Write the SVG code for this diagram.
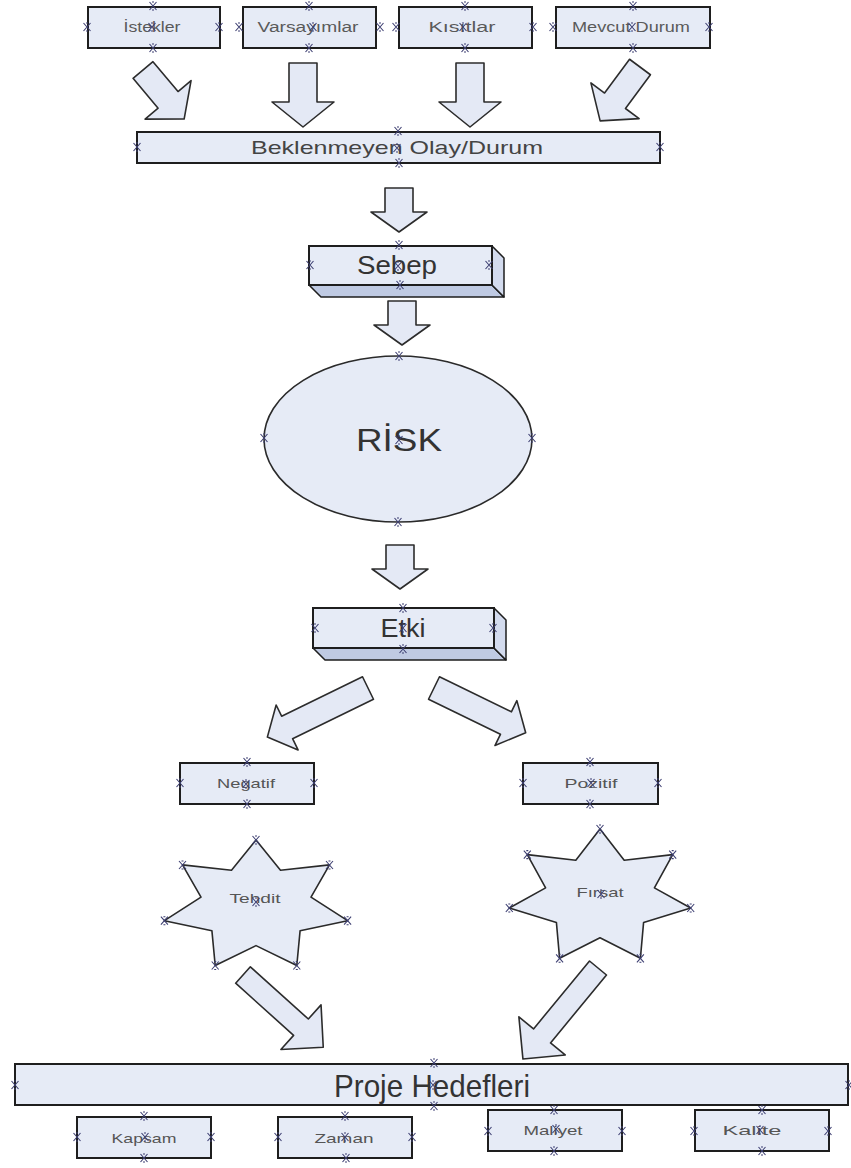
<svg xmlns="http://www.w3.org/2000/svg" xmlns:xlink="http://www.w3.org/1999/xlink" width="851" height="1168" viewBox="0 0 851 1168">
  <style>
    .box { fill: #e6ebf6; stroke: #1e1e1e; stroke-width: 2; }
    .face-b { fill: #bfcae3; stroke: #1e1e1e; stroke-width: 1.5; stroke-linejoin: round; }
    .face-r { fill: #d3dbee; stroke: #1e1e1e; stroke-width: 1.5; stroke-linejoin: round; }
    .shape { fill: #e6ebf6; stroke: #2a2a2a; stroke-width: 1.6; stroke-linejoin: round; }
    .arrow { fill: #e4e9f5; stroke: #2c2c2c; stroke-width: 1.6; stroke-linejoin: round; }
    .mk { fill: none; stroke: #3d3f72; stroke-width: 1.1; }
    text { font-family: "Liberation Sans", Arial, sans-serif; text-anchor: middle; }
    .sm { font-size: 14px; fill: #5a5a5a; }
    .xs { font-size: 13px; fill: #555; }
    .md { font-size: 19px; fill: #444; }
    .lg { font-size: 26px; fill: #333; }
    .xl { font-size: 32px; fill: #333; }
  </style>
  <defs>
    <!-- connection point glyph -->
    <path id="mk" class="mk" d="M-3.5,-4 L3.5,4 M3.5,-4 L-3.5,4 M-1,-4 H1 M-1,4 H1"/>
  </defs>

  <rect width="851" height="1168" fill="#ffffff"/>

  <!-- block arrows -->
  <g id="connectors">
    <path class="arrow" transform="translate(143,70) rotate(-40)" d="M-13,0H13V39H30L0,64L-30,39H-13Z"/>
    <path class="arrow" transform="translate(303,63)" d="M-14,0H14V39H31L0,64L-31,39H-14Z"/>
    <path class="arrow" transform="translate(470,63)" d="M-14,0H14V39H31L0,64L-31,39H-14Z"/>
    <path class="arrow" transform="translate(640,67) rotate(36.5)" d="M-13,0H13V42H30L0,67L-30,42H-13Z"/>
    <path class="arrow" transform="translate(399,188)" d="M-14,0H14V24H28L0,44L-28,24H-14Z"/>
    <path class="arrow" transform="translate(402,301)" d="M-14,0H14V24H28L0,44L-28,24H-14Z"/>
    <path class="arrow" transform="translate(400,545)" d="M-14,0H14V24H28L0,44L-28,24H-14Z"/>
    <path class="arrow" transform="translate(368,688) rotate(64)" d="M-12.5,0H12.5V90H25L0,112L-25,90H-12.5Z"/>
    <path class="arrow" transform="translate(434,688) rotate(-64)" d="M-12.5,0H12.5V80H25L0,102L-25,80H-12.5Z"/>
    <path class="arrow" transform="translate(243,975) rotate(-48)" d="M-11,0H11V78H30L0,108L-30,78H-11Z"/>
    <path class="arrow" transform="translate(598,968) rotate(39.5)" d="M-11,0H11V88H30L0,118L-30,88H-11Z"/>
  </g>

  <g id="istekler">
    <rect class="box" x="88" y="7" width="132" height="41"/>
    <text class="sm" x="152" y="32" textLength="57" lengthAdjust="spacingAndGlyphs">İstekler</text>
    <use href="#mk" x="153" y="6"/><use href="#mk" x="153" y="48"/><use href="#mk" x="87" y="27"/><use href="#mk" x="219" y="27"/><use href="#mk" x="152" y="27"/>
  </g>
  <g id="varsayimlar">
    <rect class="box" x="243" y="7" width="133" height="41"/>
    <text class="sm" x="308" y="32" textLength="101" lengthAdjust="spacingAndGlyphs">Varsayımlar</text>
    <use href="#mk" x="309" y="6"/><use href="#mk" x="309" y="48"/><use href="#mk" x="239" y="27"/><use href="#mk" x="380" y="27"/><use href="#mk" x="313" y="27"/>
  </g>
  <g id="kisitlar">
    <rect class="box" x="399" y="7" width="133" height="41"/>
    <text class="sm" x="462" y="32" textLength="67" lengthAdjust="spacingAndGlyphs">Kısıtlar</text>
    <use href="#mk" x="465" y="6"/><use href="#mk" x="465" y="48"/><use href="#mk" x="396" y="27"/><use href="#mk" x="533" y="27"/><use href="#mk" x="463" y="27"/>
  </g>
  <g id="mevcut-durum">
    <rect class="box" x="556" y="7" width="154" height="41"/>
    <text class="sm" x="631" y="32" textLength="118" lengthAdjust="spacingAndGlyphs">Mevcut Durum</text>
    <use href="#mk" x="633" y="6"/><use href="#mk" x="633" y="48"/><use href="#mk" x="553" y="27"/><use href="#mk" x="709" y="27"/><use href="#mk" x="632" y="27"/>
  </g>

  <g id="beklenmeyen">
    <rect class="box" x="137" y="132" width="523" height="31"/>
    <text class="md" x="397" y="154" textLength="292" lengthAdjust="spacingAndGlyphs">Beklenmeyen Olay/Durum</text>
    <use href="#mk" x="398" y="131"/><use href="#mk" x="399" y="163"/><use href="#mk" x="137" y="147"/><use href="#mk" x="660" y="147"/><use href="#mk" x="397" y="148"/>
  </g>

  <g id="sebep">
    <polygon class="face-b" points="309,285 492,285 504,297 321,297"/>
    <polygon class="face-r" points="492,246 504,258 504,297 492,285"/>
    <rect class="box" x="309" y="246" width="183" height="39"/>
    <text class="lg" x="397" y="274" textLength="80" lengthAdjust="spacingAndGlyphs">Sebep</text>
    <use href="#mk" x="399" y="245"/><use href="#mk" x="400" y="285"/><use href="#mk" x="310" y="265"/><use href="#mk" x="489" y="265"/><use href="#mk" x="398" y="266"/>
  </g>

  <g id="risk">
    <ellipse class="shape" cx="398" cy="439" rx="134" ry="83"/>
    <text class="xl" x="399" y="451" font-size="33" textLength="86" lengthAdjust="spacingAndGlyphs">RİSK</text>
    <use href="#mk" x="399" y="356"/><use href="#mk" x="398" y="522"/><use href="#mk" x="264" y="438"/><use href="#mk" x="532" y="438"/><use href="#mk" x="399" y="440"/>
  </g>

  <g id="etki">
    <polygon class="face-b" points="313,648 494,648 506,660 325,660"/>
    <polygon class="face-r" points="494,608 506,620 506,660 494,648"/>
    <rect class="box" x="313" y="608" width="181" height="40"/>
    <text class="lg" x="403" y="637" textLength="45" lengthAdjust="spacingAndGlyphs">Etki</text>
    <use href="#mk" x="403" y="608"/><use href="#mk" x="403" y="649"/><use href="#mk" x="315" y="628"/><use href="#mk" x="493" y="628"/><use href="#mk" x="403" y="628"/>
  </g>

  <g id="negatif">
    <rect class="box" x="180" y="763" width="134" height="41"/>
    <text class="xs" x="246" y="788" textLength="58" lengthAdjust="spacingAndGlyphs">Negatif</text>
    <use href="#mk" x="247" y="762"/><use href="#mk" x="247" y="804"/><use href="#mk" x="180" y="783"/><use href="#mk" x="314" y="783"/><use href="#mk" x="246" y="784"/>
  </g>
  <g id="pozitif">
    <rect class="box" x="523" y="763" width="135" height="41"/>
    <text class="xs" x="591" y="788" textLength="53" lengthAdjust="spacingAndGlyphs">Pozitif</text>
    <use href="#mk" x="590" y="762"/><use href="#mk" x="590" y="804"/><use href="#mk" x="523" y="783"/><use href="#mk" x="658" y="783"/><use href="#mk" x="591" y="783"/>
  </g>

  <g id="tehdit">
    <polygon class="shape" points="256,840 280.5,870.3 329.5,864.9 311,897.2 347.6,920.7 300.1,930.7 296.8,965.5 256,945.6 215.2,965.5 211.9,930.7 164.4,920.7 201,897.2 182.5,864.9 231.5,870.3"/>
    <text class="xs" x="255" y="903" textLength="51" lengthAdjust="spacingAndGlyphs">Tehdit</text>
    <use href="#mk" x="256" y="840"/><use href="#mk" x="329.5" y="865"/><use href="#mk" x="347.6" y="920.7"/><use href="#mk" x="296.8" y="965.5"/><use href="#mk" x="215.2" y="965.5"/><use href="#mk" x="164.4" y="920.7"/><use href="#mk" x="182.5" y="865"/><use href="#mk" x="256" y="902"/>
  </g>
  <g id="firsat">
    <polygon class="shape" points="600,829 624.2,860.2 672.7,854.6 654.4,887.9 690.7,908 643.6,922.4 640.4,958.3 600,937.8 559.6,958.3 556.4,922.4 509.3,908 545.6,887.9 527.3,854.6 575.8,860.2"/>
    <text class="xs" x="600" y="897" textLength="47" lengthAdjust="spacingAndGlyphs">Fırsat</text>
    <use href="#mk" x="600" y="829"/><use href="#mk" x="672.7" y="854.6"/><use href="#mk" x="690.7" y="908"/><use href="#mk" x="640.4" y="958.3"/><use href="#mk" x="559.6" y="958.3"/><use href="#mk" x="509.3" y="908"/><use href="#mk" x="527.3" y="854.6"/><use href="#mk" x="601" y="894"/>
  </g>

  <g id="proje-hedefleri">
    <rect class="box" x="15" y="1064" width="833" height="41"/>
    <text class="xl" x="432" y="1097" font-size="33" textLength="196" lengthAdjust="spacingAndGlyphs">Proje Hedefleri</text>
    <use href="#mk" x="434" y="1063"/><use href="#mk" x="434" y="1106"/><use href="#mk" x="15" y="1085"/><use href="#mk" x="849" y="1085"/><use href="#mk" x="433" y="1085"/>
  </g>

  <g id="kapsam">
    <rect class="box" x="77" y="1117" width="134" height="41"/>
    <text class="xs" x="144" y="1143" textLength="65" lengthAdjust="spacingAndGlyphs">Kapsam</text>
    <use href="#mk" x="144" y="1116"/><use href="#mk" x="144" y="1158"/><use href="#mk" x="77" y="1137"/><use href="#mk" x="211" y="1137"/><use href="#mk" x="145" y="1137"/>
  </g>
  <g id="zaman">
    <rect class="box" x="278" y="1117" width="134" height="41"/>
    <text class="xs" x="344" y="1143" textLength="59" lengthAdjust="spacingAndGlyphs">Zaman</text>
    <use href="#mk" x="345" y="1116"/><use href="#mk" x="346" y="1158"/><use href="#mk" x="278" y="1137"/><use href="#mk" x="412" y="1137"/><use href="#mk" x="345" y="1137"/>
  </g>
  <g id="maliyet">
    <rect class="box" x="488" y="1110" width="134" height="41"/>
    <text class="xs" x="553" y="1135" textLength="59" lengthAdjust="spacingAndGlyphs">Maliyet</text>
    <use href="#mk" x="554" y="1110"/><use href="#mk" x="554" y="1151"/><use href="#mk" x="488" y="1131"/><use href="#mk" x="622" y="1131"/><use href="#mk" x="556" y="1129"/>
  </g>
  <g id="kalite">
    <rect class="box" x="695" y="1110" width="134" height="41"/>
    <text class="xs" x="752" y="1135" textLength="59" lengthAdjust="spacingAndGlyphs">Kalite</text>
    <use href="#mk" x="762" y="1110"/><use href="#mk" x="762" y="1151"/><use href="#mk" x="694" y="1131"/><use href="#mk" x="828" y="1131"/><use href="#mk" x="760" y="1130"/>
  </g>
</svg>
